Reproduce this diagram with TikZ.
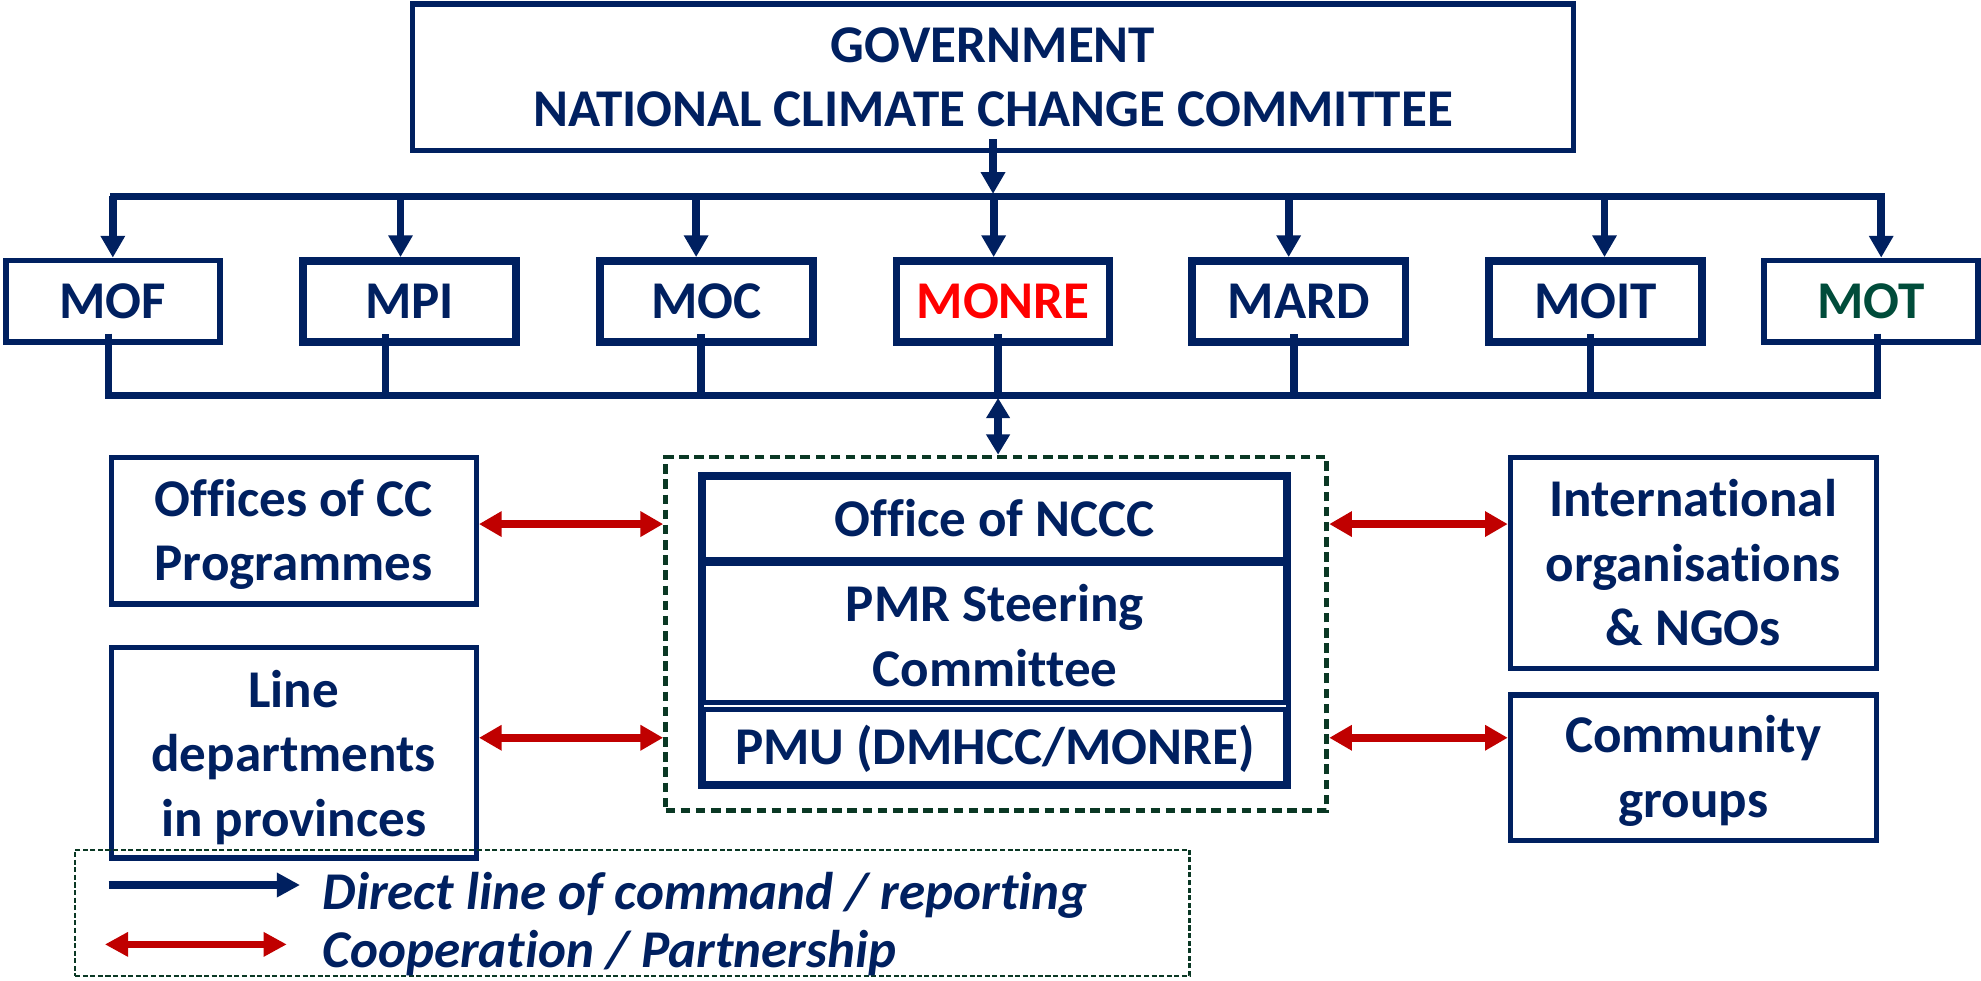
\documentclass[tikz,border=0pt]{standalone}
\usepackage{fontspec}
\setmainfont{Carlito}[Ligatures=NoCommon]
\usetikzlibrary{arrows.meta}
\definecolor{navy}{RGB}{0,32,96}
\definecolor{cred}{RGB}{192,0,0}
\definecolor{dgreen}{RGB}{10,56,36}
\definecolor{motgreen}{RGB}{0,76,58}
\definecolor{monred}{RGB}{255,0,0}
\tikzset{
  lbl/.style={font=\fontsize{21}{25.5}\selectfont\bfseries, text=navy, align=center, inner sep=0pt},
  legtxt/.style={font=\fontsize{21}{25.5}\selectfont\bfseries\itshape, text=navy, inner sep=0pt},
  govbox/.style={lbl, draw=navy, line width=2.2pt, fill=white},
  thinbox/.style={lbl, draw=navy, line width=2.2pt, fill=white, minimum width=84.7pt, minimum height=32.4pt},
  thickbox/.style={lbl, draw=navy, line width=3pt, fill=white, minimum width=84.3pt, minimum height=32pt},
  sidebox/.style={lbl, draw=navy, line width=2.1pt, fill=white},
  contbox/.style={draw=dgreen, line width=1.9pt, dash pattern=on 3.8pt off 2.2pt},
  legbox/.style={draw=dgreen, line width=0.8pt, dash pattern=on 2pt off 1pt},
  bus/.style={draw=navy, line width=3pt},
  link/.style={draw=navy, line width=3pt},
  cmd/.style={draw=navy, line width=3.1pt, -{Triangle[length=8.6pt,width=9.2pt]}},
  dbl/.style={draw=navy, line width=3pt, {Triangle[length=8pt,width=9pt]}-{Triangle[length=8pt,width=9pt]}},
  coop/.style={draw=cred, line width=3.1pt, {Triangle[length=9pt,width=9.6pt]}-{Triangle[length=9pt,width=9.6pt]}},
  cmdleg/.style={draw=navy, line width=3.4pt, -{Triangle[length=9.2pt,width=9.2pt]}},
  coopleg/.style={draw=cred, line width=2.9pt, {Triangle[length=9.2pt,width=9.2pt]}-{Triangle[length=9.2pt,width=9.2pt]}},
}
\begin{document}
\begin{tikzpicture}[x=0.5pt,y=-0.5pt]
\fill[white] (0,0) rectangle (1568,776);
\path[use as bounding box] (0,0) rectangle (1568,776);

% government
\node[govbox, minimum width=459.5pt, minimum height=58pt] (gov) at (786,61)
  {GOVERNMENT\\NATIONAL CLIMATE CHANGE COMMITTEE};

% ministries
\node[thinbox]  (MOF)   at (89.3,238.5)  {MOF};
\node[thickbox] (MPI)   at (324.3,238.5) {MPI};
\node[thickbox] (MOC)   at (559,238.5)   {MOC};
\node[thickbox, text=monred] (MONRE) at (794,238.5) {MONRE};
\node[thickbox] (MARD)  at (1028,238.5)  {MARD};
\node[thickbox] (MOIT)  at (1263,238.5)  {MOIT};
\node[thinbox, text=motgreen] (MOT) at (1481,238.5) {MOT};

% container and inner stack
\node[contbox, minimum width=261.7pt, minimum height=139.75pt] (cont) at (788.5,501.5) {};
\node[sidebox, minimum width=230.5pt, minimum height=32.75pt] (nccc) at (787.5,410.25) {Office of NCCC};
\node[sidebox, minimum width=230.5pt, minimum height=56.5pt] (pmr) at (787.5,499.5) {};
\node[lbl] (pmrT) at ([yshift=-1.8pt]pmr.center) {PMR Steering\\Committee};
\node[sidebox, minimum width=230.5pt, minimum height=29.25pt] (pmu) at (787.5,590.75) {};
\node[lbl] (pmuT) at ([yshift=-0.8pt]pmu.center) {PMU (DMHCC/MONRE)};
\draw[navy, line width=2.8pt] (nccc.south west) -- (nccc.south east);
\draw[navy, line width=2.1pt] (nccc.north west) rectangle (pmu.south east);

% side boxes
\node[sidebox, minimum width=144.5pt, minimum height=58pt] (offices) at (232.5,420) {};
\node[lbl] (officesT) at ([yshift=-1.4pt]offices.center) {Offices of CC\\Programmes};
\node[sidebox, minimum width=144.5pt, minimum height=83.25pt] (linedep) at (232.5,595.75) {};
\node[lbl] (linedepT) at ([yshift=-1.8pt]linedep.center) {Line\\departments\\in provinces};
\node[sidebox, minimum width=144.75pt, minimum height=83.5pt] (intl) at (1340.25,445.5) {International\\organisations\\\& NGOs};
\node[sidebox, minimum width=144.75pt, minimum height=57.5pt] (comm) at (1340.25,607.5) {};
\node[lbl] (commT) at ([yshift=-1.4pt]comm.center) {Community\\groups};

% upper bus and command arrows
\coordinate (busL) at (90,155.5);
\coordinate (busR) at (1489,155.5);
\draw[bus, line cap=rect] (busL) -- (busR);
\coordinate (gA) at ([yshift=5.5pt]gov.south);
\draw[cmd] (gA) -- ([yshift=1pt]gA |- busL);
\foreach \n/\s in {MOF/0pt, MPI/-3.65pt, MOC/-4pt, MONRE/-3.75pt, MARD/-4pt, MOIT/3.5pt, MOT/4pt} {
  \coordinate (a\n) at ([xshift=\s]\n.north);
  \draw[cmd] (a\n |- busL) -- (a\n);
}

% lower bus
\coordinate (lbusL) at (86,313);
\coordinate (lbusR) at (1486,313);
\foreach \n/\s in {MOF/-1.65pt, MPI/-9.65pt, MOC/-2pt, MONRE/-2pt, MARD/-2pt, MOIT/-2pt, MOT/2.5pt} {
  \coordinate (b\n) at ([xshift=\s,yshift=4.5pt]\n.south);
  \draw[link] (b\n) -- (b\n |- lbusL);
}
\draw[bus, line cap=rect] (lbusL) -- (lbusR);
\draw[dbl] ([yshift=-1pt]bMONRE |- lbusL) -- (bMONRE |- cont.north);

% cooperation arrows
\coordinate (r1) at ([yshift=2.6pt]offices.east);
\coordinate (r2) at ([yshift=5.9pt]linedep.east);
\draw[coop] (r1) -- (r1 -| cont.west);
\draw[coop] (r1 -| cont.east) -- (r1 -| intl.west);
\draw[coop] (r2) -- (r2 -| cont.west);
\draw[coop] (r2 -| cont.east) -- (r2 -| comm.west);

% legend
\node[legbox, minimum width=441pt, minimum height=50pt] (legend) at (500.5,722.5) {};
\coordinate (l1s) at (86,700.5);
\coordinate (l1e) at (237.5,700.5);
\draw[cmdleg] (l1s) -- (l1e);
\coordinate (l2s) at (83,747.5);
\coordinate (l2e) at (227,747.5);
\draw[coopleg] (l2s) -- (l2e);
\node[legtxt, anchor=base west] (t1) at (255,719.5) {Direct line of command / reporting};
\node[legtxt, anchor=base west] (t2) at (255,766) {Cooperation / Partnership};
\end{tikzpicture}
\end{document}
